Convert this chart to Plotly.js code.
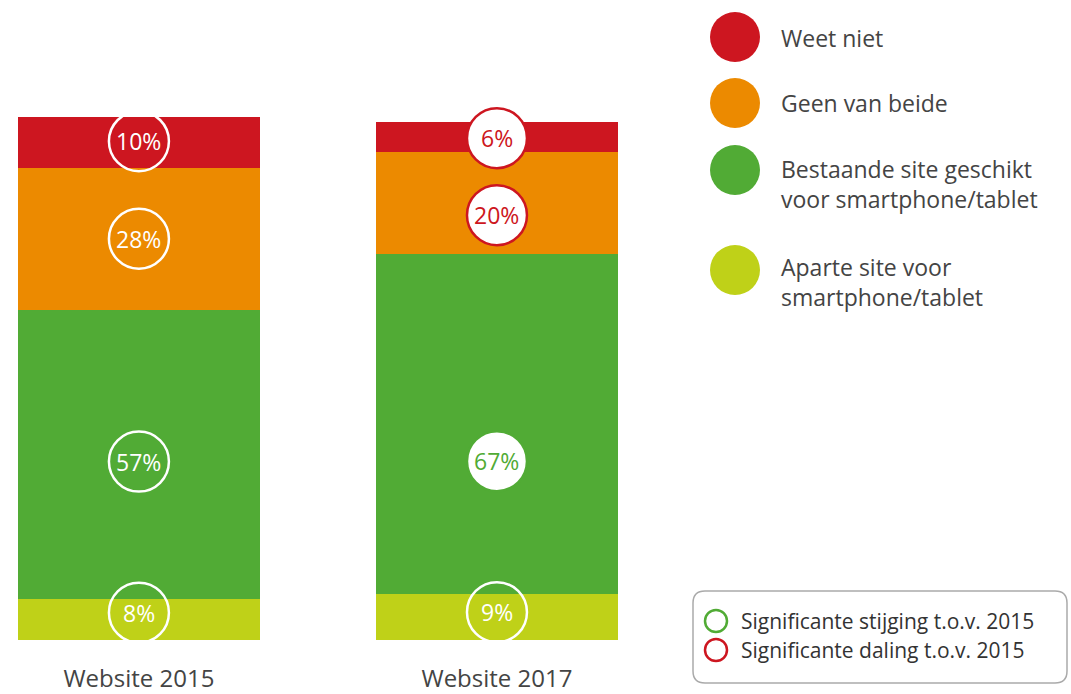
<!DOCTYPE html>
<html><head><meta charset="utf-8">
<script src="https://cdn.plot.ly/plotly-3.0.1.min.js"></script>
<style>body{margin:0;background:#fff}#chart{width:1071px;height:694px}</style>
</head><body><div id="chart"></div>
<script>
// ---- data ----
const categories = ["Website 2015", "Website 2017"];
const seriesNames = ["Aparte site voor smartphone/tablet", "Bestaande site geschikt voor smartphone/tablet", "Geen van beide", "Weet niet"];
const aparte = [8, 9];
const bestaande = [57, 67];
const geen = [28, 20];
const weetNiet = [10, 6];
// significance vs 2015: "" none, "up" increase, "down" decrease
const sigAparte = ["", ""];
const sigBestaande = ["", "up"];
const sigGeen = ["", "down"];
const sigWeetNiet = ["", "down"];
const legendLabels = ["Weet niet", "Geen van beide", "Bestaande site geschikt<br>voor smartphone/tablet", "Aparte site voor<br>smartphone/tablet"];
const sigLabels = ["Significante stijging t.o.v. 2015", "Significante daling t.o.v. 2015"];

// ---- style ----
const colors = ["#BFD118", "#51AB35", "#EC8A00", "#CD1620"];
const UP = "#51AB35", DOWN = "#CD1620";
const FONT = "Open Sans, Lato, sans-serif";
// label pixel nudges (style): [series][category]
const labelShift = [[7, 5], [-7, -37], [0, -12], [1, -1]];

const W = 1071, H = 694;
const M = {l: 0, r: 395, t: 0, b: 54};
const pw = W - M.l - M.r, ph = H - M.t - M.b;
const px = x => (x - M.l) / pw;
const py = y => 1 - (y - M.t) / ph;

const series = [aparte, bestaande, geen, weetNiet];
const sigs = [sigAparte, sigBestaande, sigGeen, sigWeetNiet];

const traces = series.map((vals, i) => ({
  type: "bar", x: categories, y: vals, name: seriesNames[i],
  marker: {color: colors[i], line: {width: 0}}, width: 0.676,
  hoverinfo: "skip", showlegend: false
}));

const shapes = [], annotations = [];
categories.forEach((cat, ci) => {
  let cum = 0;
  series.forEach((vals, si) => {
    const mid = cum + vals[ci] / 2;
    cum += vals[ci];
    const s = sigs[si][ci];
    const sh = labelShift[si][ci];
    const fill = s ? "#ffffff" : "rgba(0,0,0,0)";
    const line = s === "up" ? UP : s === "down" ? DOWN : "#ffffff";
    const txt = s === "up" ? UP : s === "down" ? DOWN : "#ffffff";
    shapes.push({type: "circle", xref: "x", yref: "y", xsizemode: "pixel", ysizemode: "pixel",
      xanchor: ci, yanchor: mid, x0: -30, x1: 30, y0: -30 + sh, y1: 30 + sh,
      fillcolor: fill, line: {color: line, width: 2.5}});
    annotations.push({xref: "x", yref: "y", x: ci, y: mid, yshift: sh, text: vals[ci] + "%", showarrow: false,
      font: {family: FONT, size: 23, color: txt}});
  });
});

// custom legend
const legY = [37, 103, 170, 270];
const legTextY = [38, 103, 184, 282];
const legColors = [colors[3], colors[2], colors[1], colors[0]];
legendLabels.forEach((lab, i) => {
  shapes.push({type: "circle", xref: "paper", yref: "paper", xsizemode: "pixel", ysizemode: "pixel",
    xanchor: px(735), yanchor: py(legY[i]), x0: -25, x1: 25, y0: -25, y1: 25,
    fillcolor: legColors[i], line: {width: 0}});
  annotations.push({xref: "paper", yref: "paper", x: px(779), y: py(legTextY[i]), xanchor: "left", yanchor: "middle",
    align: "left", text: lab, showarrow: false, font: {family: FONT, size: 23, color: "#444"}});
});

// significance box
shapes.push({type: "path", xref: "paper", yref: "paper", layer: "below",
  path: (() => {
    const x0 = px(693), x1 = px(1067), y0 = py(591), y1 = py(683);
    const rx = 12 / pw, ry = 12 / ph;
    return `M ${x0 + rx} ${y0} L ${x1 - rx} ${y0} Q ${x1} ${y0} ${x1} ${y0 - ry} L ${x1} ${y1 + ry} Q ${x1} ${y1} ${x1 - rx} ${y1} L ${x0 + rx} ${y1} Q ${x0} ${y1} ${x0} ${y1 + ry} L ${x0} ${y0 - ry} Q ${x0} ${y0} ${x0 + rx} ${y0} Z`;
  })(),
  line: {color: "#aaaaaa", width: 1.5}, fillcolor: "rgba(0,0,0,0)"});
[UP, DOWN].forEach((c, i) => {
  const yy = [621, 650][i];
  shapes.push({type: "circle", xref: "paper", yref: "paper", xsizemode: "pixel", ysizemode: "pixel",
    xanchor: px(716), yanchor: py(yy), x0: -11, x1: 11, y0: -11, y1: 11,
    fillcolor: "rgba(0,0,0,0)", line: {color: c, width: 2.5}});
  annotations.push({xref: "paper", yref: "paper", x: px(739), y: py(yy), xanchor: "left", yanchor: "middle",
    text: sigLabels[i], showarrow: false, font: {family: FONT, size: 21, color: "#333"}});
});

const layout = {
  width: W, height: H, margin: M, paper_bgcolor: "#fff", plot_bgcolor: "#fff",
  barmode: "stack", showlegend: false,
  xaxis: {type: "category", range: [-0.388, 1.5], showgrid: false, zeroline: false, showline: false,
    ticks: "", ticklabelstandoff: 22, tickfont: {family: FONT, size: 24, color: "#444"}},
  yaxis: {range: [0, 126], visible: false, showgrid: false, zeroline: false},
  shapes, annotations
};
Plotly.newPlot("chart", traces, layout, {displayModeBar: false, staticPlot: true});
</script></body></html>
